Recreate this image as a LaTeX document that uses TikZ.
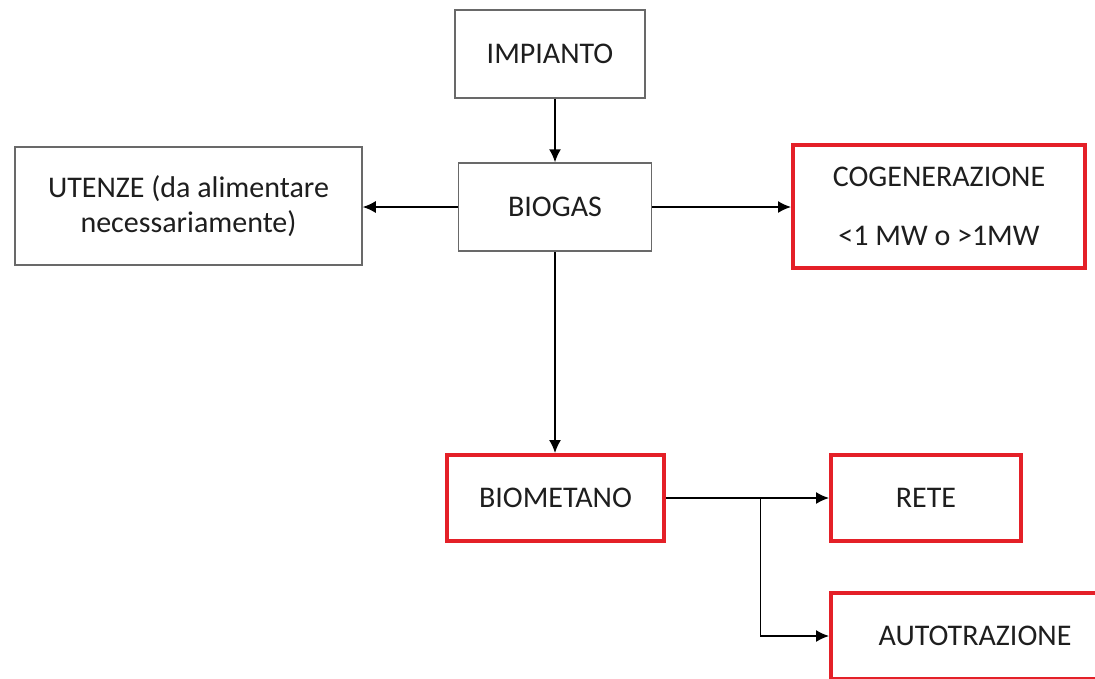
\documentclass[tikz,border=0pt]{standalone}
\usepackage{fontspec}
\setmainfont{Carlito}
\usetikzlibrary{arrows.meta,positioning,calc}
\definecolor{boxred}{RGB}{228,32,40}
\definecolor{boxgrey}{RGB}{105,105,105}
\definecolor{txtgrey}{RGB}{30,30,30}

\begin{document}
\begin{tikzpicture}[
        x=1pt, y=-1pt,
        >={Latex[length=13pt,width=12pt]},
        every node/.style={
            font=\fontsize{30}{35}\selectfont, text=txtgrey,
            align=center, inner sep=0pt
        },
        plainbox/.style={rectangle, draw=boxgrey, line width=1.5pt},
        redbox/.style={rectangle, draw=boxred, line width=4pt},
        flow/.style={->, line width=1.5pt}
    ]
    \useasboundingbox (0,0) rectangle (1095,678);
    \clip (0,0) rectangle (1095,678);
    \fill[white] (0,0) rectangle (1095,678);

    \node[plainbox, minimum width=190pt, minimum height=88pt] (impianto) at (550,54) {IMPIANTO};
    \node[plainbox, minimum width=193pt, minimum height=88pt] (biogas) at (555,207) {BIOGAS};
    \node[plainbox, minimum width=347pt, minimum height=118pt] (utenze) at (188.5,206) {
        UTENZE (da alimentare\\
        necessariamente)
    };
    \node[redbox, minimum width=292pt, minimum height=123pt] (cogen) at (939,206.5) {
        COGENERAZIONE\\[24pt]
        <1 MW o >1MW
    };
    \node[redbox, minimum width=217pt, minimum height=86pt] (biometano) at (555.5,498) {BIOMETANO};
    \node[redbox, minimum width=190pt, minimum height=86pt] (rete) at (926,498) {RETE};
    \node[redbox, minimum width=288pt, minimum height=86pt] (autotrazione) at (975,636) {AUTOTRAZIONE};

    \coordinate (split) at ($(biometano.east)!0.58!(rete.west)$);

    \draw[flow] (impianto.south -| biogas.north) -- (biogas.north);
    \draw[flow] (biogas.west) -- (biogas.west -| utenze.east);
    \draw[flow] (biogas.east) -- (biogas.east -| cogen.west);
    \draw[flow] (biogas.south) -- (biogas.south |- biometano.north);
    \draw[flow] (biometano.east) -- (rete.west);
    \draw[flow] (split) |- (autotrazione.west);
\end{tikzpicture}
\end{document}
